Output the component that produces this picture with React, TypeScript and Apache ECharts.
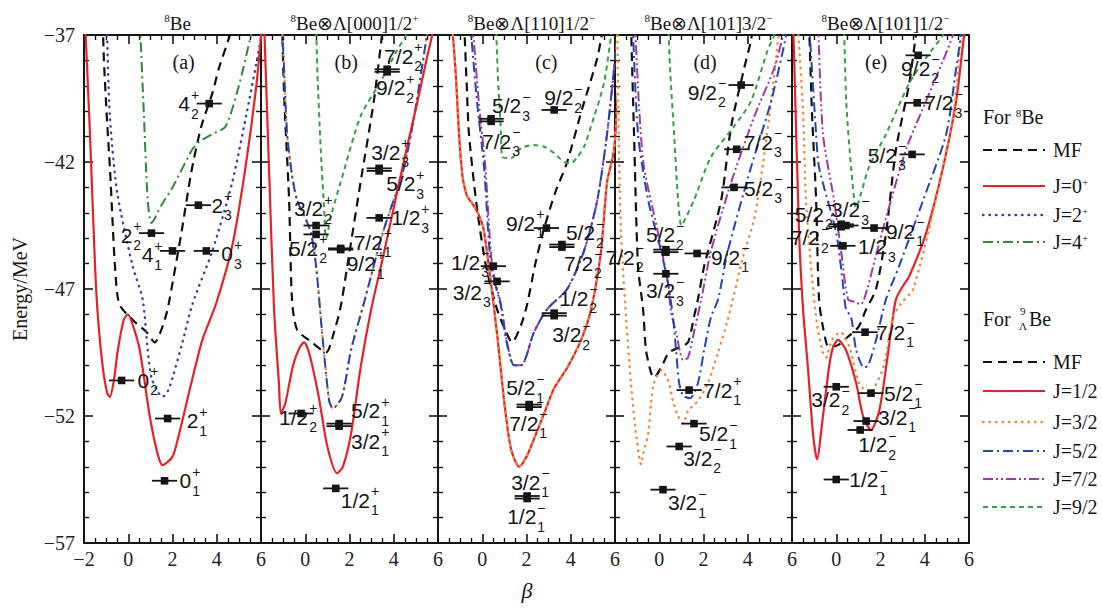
import React, { useEffect, useRef } from "react";
import * as echarts from "echarts";

type Curve = [number, number][];
// [beta, energy (MeV), spin, index, parity]
type Level = [number, number, string, string, string];
// [dx px, dy px, anchor] for a level label, relative to its marker
type Place = [number, number, "l" | "r" | "c"];

const E_MIN = -57;
const E_MAX = -37;
const B_MIN = -2;
const B_MAX = 6;
const HALF_BAR = 0.57;

const PANEL_TITLES = [
  "{s|8}Be",
  "{s|8}Be⊗Λ[000]1/2{s|+}",
  "{s|8}Be⊗Λ[110]1/2{s|−}",
  "{s|8}Be⊗Λ[101]3/2{s|−}",
  "{s|8}Be⊗Λ[101]1/2{s|−}",
];
const PANEL_TAGS = ["(a)", "(b)", "(c)", "(d)", "(e)"];

// ---------- (a) 8Be ----------
const MF_A: Curve = [[-1.15,-36.5],[-1.1,-38],[-0.95,-40.5],[-0.83,-42.2],[-0.7,-44.5],[-0.6,-46.1],[-0.4,-47.6],[0.3,-48.3],[0.83,-48.7],[1.2,-49.1],[1.5,-48.6],[1.75,-47.9],[1.87,-47.4],[2.4,-44.8],[2.85,-42.4],[3.3,-40.6],[3.8,-39.3],[4.1,-38.3],[4.6,-37],[4.75,-36.5]];
const J0_A: Curve = [[-1.95,-36.5],[-1.73,-40.9],[-1.5,-46.1],[-1.37,-48.1],[-1.15,-50.1],[-0.95,-51.1],[-0.83,-51.25],[-0.65,-50.6],[-0.47,-49.4],[-0.2,-48.2],[-0.02,-48.0],[0.2,-48.4],[0.52,-49.4],[0.97,-52.0],[1.33,-53.5],[1.55,-53.93],[2.0,-53.6],[2.3,-52.7],[2.85,-50.7],[3.35,-49.0],[3.98,-47.55],[4.7,-45.3],[5.3,-42.2],[5.8,-38.9],[6.05,-36.5]];
const J2_A: Curve = [[-0.98,-36.5],[-0.96,-37],[-0.83,-40.2],[-0.5,-43.2],[0.2,-46.1],[0.65,-47.4],[0.88,-49.4],[1.05,-50.5],[1.3,-51.0],[1.55,-51.25],[1.8,-51.0],[2.0,-50.5],[2.45,-49.1],[2.9,-47.6],[3.8,-45.5],[4.7,-42.8],[5.46,-39.6],[5.9,-37.6],[6.05,-36.8]];
const J4_A: Curve = [[0.52,-36.5],[0.55,-37],[0.7,-40],[0.88,-43.5],[1.05,-44.4],[1.5,-43.7],[2.0,-43.0],[2.9,-41.5],[3.22,-41.2],[3.8,-40.9],[4.4,-40.6],[5.0,-39.0],[5.55,-37],[5.7,-36.5]];
const LEVELS_A: Level[] = [[3.66,-39.7,"4","2","+"],[3.17,-43.7,"2","3","+"],[1.05,-44.8,"2","2","+"],[2.0,-45.5,"4","1","+"],[3.53,-45.5,"0","3","+"],[-0.3,-50.6,"0","2","+"],[1.78,-52.1,"2","1","+"],[1.64,-54.55,"0","1","+"]];
const PLACE_A: Place[] = [[-10,0,"r"],[13,0,"l"],[-10,2,"r"],[-10,4,"r"],[15,3,"l"],[16,0,"l"],[19,2,"l"],[15,0,"l"]];

// ---------- (b) 8Be x Lambda[000]1/2+ ----------
const MF_B: Curve = [[-1.05,-36.5],[-0.95,-39.5],[-0.73,-43.5],[-0.6,-47.4],[-0.37,-48.6],[0.3,-49.1],[0.94,-49.5],[1.3,-48.7],[1.6,-47.7],[1.9,-46.1],[2.5,-42.8],[3.1,-39.6],[3.47,-37],[3.55,-36.5]];
const J12_B: Curve = [[-1.86,-36.5],[-1.64,-42.2],[-1.41,-47.8],[-1.19,-50.7],[-1.1,-51.9],[-0.9,-51.5],[-0.55,-50.0],[-0.25,-49.3],[-0.05,-49.1],[0.2,-49.6],[0.6,-51.2],[1.0,-53.2],[1.44,-54.25],[1.7,-54.0],[2.07,-52.7],[2.5,-50.1],[2.98,-47.8],[3.5,-45.8],[4.0,-43.8],[4.5,-41.8],[5.0,-39.9],[5.5,-37.9],[5.74,-37],[5.85,-36.5]];
const J52_B: Curve = [[-1.05,-36.5],[-0.95,-38.5],[-0.82,-40.9],[-0.6,-42.5],[-0.37,-43.5],[0.05,-44.3],[0.26,-44.8],[0.49,-46.1],[0.76,-48.7],[1.08,-51.4],[1.25,-51.7],[1.66,-51.25],[2.07,-49.4],[2.7,-47.4],[3.5,-44.8],[4.47,-42.2],[5.0,-39.8],[5.5,-37],[5.6,-36.5]];
const J32_B: Curve = [[-1.05,-36.5],[-0.95,-38.5],[-0.82,-40.9],[-0.6,-42.5],[-0.37,-43.5],[0.05,-44.3],[0.26,-44.8],[0.49,-46.1],[0.76,-48.7],[1.08,-51.4],[1.25,-51.7],[1.66,-51.25],[2.07,-49.4],[2.7,-47.4],[3.5,-44.8],[4.47,-42.2],[5.0,-39.8],[5.5,-37],[5.6,-36.5]];
const J92_B: Curve = [[0.49,-36.5],[0.55,-38.5],[0.7,-41.5],[0.85,-43.8],[0.94,-45.0],[1.2,-44.0],[1.6,-42.8],[2.5,-40.2],[3.43,-38.8],[4.15,-37.6],[4.7,-36.8],[4.8,-36.5]];
const LEVELS_B: Level[] = [[3.7,-38.35,"7/2","2","+"],[3.7,-38.45,"9/2","2","+"],[3.34,-42.25,"3/2","3","+"],[3.34,-42.35,"5/2","3","+"],[3.34,-44.2,"1/2","3","+"],[0.49,-44.5,"3/2","2","+"],[0.49,-44.85,"5/2","2","+"],[1.6,-45.4,"7/2","1","+"],[1.6,-45.45,"9/2","1","+"],[-0.19,-51.9,"1/2","2","+"],[1.53,-52.3,"5/2","1","+"],[1.53,-52.4,"3/2","1","+"],[1.38,-54.85,"1/2","1","+"]];
const PLACE_B: Place[] = [[-3,-13,"l"],[-11,16,"l"],[-8,-16,"l"],[7,13,"l"],[12,0,"l"],[-22,-17,"l"],[-27,14,"l"],[13,-6,"l"],[6,14,"l"],[-22,4,"l"],[12,-13,"l"],[12,15,"l"],[5,12,"l"]];

// ---------- (c) 8Be x Lambda[110]1/2- ----------
const MF_C: Curve = [[-0.82,-36.5],[-0.7,-39],[-0.6,-40.9],[-0.24,-43.8],[0.17,-46.1],[0.67,-47.8],[1.08,-48.7],[1.35,-49.1],[1.76,-48.4],[2.03,-47.6],[2.4,-46.0],[2.8,-44.6],[3.3,-43.2],[3.84,-42.0],[4.5,-39.95],[5.2,-37.9],[5.5,-36.5]];
const J12_C: Curve = [[-1.37,-36.5],[-1.2,-38.5],[-1.05,-40.9],[-0.9,-42.5],[-0.7,-43.3],[-0.4,-43.7],[-0.2,-44.0],[0.05,-44.6],[0.4,-46.8],[0.7,-49.0],[1.0,-51.5],[1.3,-53.3],[1.67,-54.0],[2.0,-53.6],[2.34,-52.9],[2.8,-51.9],[3.25,-50.9],[3.84,-50.1],[4.47,-49.0],[4.92,-47.8],[5.37,-45.5],[5.64,-42.8],[5.96,-41.5],[6.2,-38]];
const J32_C: Curve = [[-1.37,-36.5],[-1.2,-38.5],[-1.05,-40.9],[-0.9,-42.5],[-0.7,-43.3],[-0.4,-43.7],[-0.2,-44.0],[0.05,-44.6],[0.4,-46.8],[0.7,-49.0],[1.0,-51.5],[1.3,-53.3],[1.67,-54.0],[2.0,-53.6],[2.34,-52.9],[2.8,-51.9],[3.25,-50.9],[3.84,-50.1],[4.47,-49.0],[4.92,-47.8],[5.37,-45.5],[5.64,-42.8],[5.96,-41.5],[6.2,-38]];
const J52_C: Curve = [[-0.55,-36.5],[-0.5,-37],[-0.24,-39.6],[0.08,-42.2],[0.4,-46.1],[0.85,-47.7],[1.08,-49.0],[1.44,-50.0],[1.76,-50.0],[2.34,-48.7],[2.93,-47.8],[3.84,-47.0],[4.6,-45.5],[5.2,-43.5],[5.64,-40.9],[5.96,-38.3],[6.1,-37]];
const J72_C: Curve = [[-0.45,-36.5],[-0.4,-37],[-0.16,-39.6],[0.14,-42.2],[0.45,-46.1],[0.87,-47.7],[1.1,-49.0],[1.44,-50.0],[1.76,-50.0],[2.34,-48.7],[2.93,-47.8],[3.84,-47.0],[4.6,-45.5],[5.2,-43.5],[5.64,-40.9],[5.96,-38.3],[6.1,-37]];
const J92_C: Curve = [[0.62,-36.5],[0.7,-38.5],[0.85,-40.9],[0.9,-41.8],[1.3,-41.85],[1.76,-41.45],[2.34,-41.33],[2.8,-41.4],[3.25,-41.65],[3.7,-42.0],[4.0,-42.05],[4.3,-41.8],[4.6,-41.4],[5.06,-40.2],[5.5,-38.9],[5.83,-37],[5.9,-36.5]];
const LEVELS_C: Level[] = [[0.4,-40.3,"5/2","3","−"],[0.4,-40.4,"7/2","3","−"],[3.25,-39.95,"9/2","2","−"],[2.9,-44.6,"9/2","1","+"],[3.6,-45.25,"5/2","2","−"],[3.6,-45.35,"7/2","2","−"],[0.5,-46.1,"1/2","3","−"],[0.67,-46.7,"3/2","3","−"],[3.25,-47.95,"1/2","2","−"],[3.25,-48.05,"3/2","2","−"],[2.12,-51.55,"5/2","1","−"],[2.12,-51.65,"7/2","1","−"],[2.03,-55.15,"3/2","1","−"],[2.03,-55.25,"1/2","1","−"]];
const PLACE_C: Place[] = [[1,-13,"l"],[-9,20,"l"],[-10,-12,"l"],[-2,-5,"r"],[4,-12,"l"],[2,16,"l"],[-4,-4,"r"],[-6,11,"r"],[5,-15,"l"],[-2,19,"l"],[-23,-17,"l"],[-20,16,"l"],[-16,-14,"l"],[-20,18,"l"]];

// ---------- (d) 8Be x Lambda[101]3/2- ----------
const MF_D: Curve = [[-1.28,-36.5],[-1.14,-40.9],[-0.96,-46.1],[-0.73,-47.8],[-0.6,-49.4],[-0.37,-50.3],[-0.24,-50.5],[0.08,-50.1],[0.44,-49.5],[0.9,-49.3],[1.3,-49.1],[1.57,-48.1],[1.75,-47.4],[2.03,-46.1],[2.8,-43.5],[3.25,-40.6],[3.84,-38.3],[4.15,-37.2],[4.25,-36.5]];
const J32_D: Curve = [[-1.9,-36.5],[-1.85,-40],[-1.73,-44.8],[-1.5,-48.1],[-1.28,-50.7],[-1.05,-52.7],[-0.82,-53.9],[-0.73,-53.5],[-0.5,-52.7],[-0.37,-51.5],[-0.24,-50.7],[0.1,-50.2],[0.4,-50.6],[0.62,-51.4],[0.85,-52.0],[1.08,-52.3],[1.3,-51.8],[1.75,-51.4],[2.2,-50.7],[2.66,-49.5],[3.1,-48.2],[3.8,-45.7],[4.3,-44.2],[4.7,-42],[5.06,-39.6],[5.4,-37],[5.5,-36.5]];
const J52_D: Curve = [[-1.2,-36.5],[-0.96,-40.9],[-0.5,-43.5],[0.08,-45.5],[0.4,-46.8],[0.62,-48.1],[0.76,-49.4],[0.9,-50.7],[1.08,-51.2],[1.4,-51.3],[1.75,-50.7],[2.03,-49.4],[2.34,-48.1],[2.66,-47.4],[3.1,-45.5],[4.15,-42.2],[5.06,-39.6],[5.74,-37],[5.8,-36.5]];
const J72_D: Curve = [[-1.1,-36.5],[-0.9,-40],[-0.69,-42.2],[-0.05,-44.8],[0.4,-46.8],[0.53,-47.9],[0.76,-48.7],[1.08,-49.8],[1.3,-49.7],[1.57,-48.7],[1.9,-47.4],[2.34,-45.5],[3.25,-42.8],[4.3,-40.2],[5.2,-38.3],[5.6,-37],[5.7,-36.5]];
const J92_D: Curve = [[0.4,-36.5],[0.5,-38.5],[0.67,-40.9],[0.85,-43.5],[1.0,-44.5],[1.2,-44.2],[1.57,-43.5],[2.34,-41.8],[3.38,-40.6],[4.15,-39.6],[4.9,-37.6],[5.2,-37],[5.3,-36.6]];
const LEVELS_D: Level[] = [[3.7,-38.97,"9/2","2","−"],[3.5,-41.5,"7/2","3","−"],[3.38,-43.0,"5/2","3","−"],[0.3,-45.45,"5/2","2","−"],[0.3,-45.55,"7/2","2","−"],[1.71,-45.6,"9/2","1","−"],[0.3,-46.4,"3/2","3","−"],[1.35,-50.98,"7/2","1","+"],[1.57,-52.3,"5/2","1","−"],[0.9,-53.2,"3/2","2","−"],[0.17,-54.9,"3/2","1","−"]];
const PLACE_D: Place[] = [[-15,7,"r"],[7,-7,"l"],[10,1,"l"],[-20,-15,"l"],[-22,5,"r"],[14,4,"l"],[-20,17,"l"],[14,0,"l"],[5,10,"l"],[4,12,"l"],[5,13,"l"]];

// ---------- (e) 8Be x Lambda[101]1/2- ----------
const MF_E: Curve = [[-1.23,-36.5],[-1.1,-40],[-0.91,-43.5],[-0.78,-47.4],[-0.6,-48.5],[-0.33,-49.3],[0.1,-49.2],[0.5,-48.9],[1.0,-48.5],[1.35,-47.8],[1.8,-47.0],[2.25,-44.8],[2.7,-41.5],[3.3,-38.9],[3.6,-37],[3.7,-36.5]];
const J12_E: Curve = [[-1.95,-36.5],[-1.9,-38],[-1.68,-44.8],[-1.5,-47.8],[-1.28,-50.1],[-1.05,-52.7],[-0.87,-53.7],[-0.6,-52.0],[-0.33,-50.1],[-0.15,-49.3],[0.08,-49.0],[0.44,-49.4],[0.9,-50.7],[1.21,-52.0],[1.57,-52.55],[1.94,-51.8],[2.25,-50.1],[2.5,-48.5],[2.7,-47.4],[3.0,-46.9],[3.3,-46.5],[4.06,-44.8],[4.83,-42.2],[5.42,-39.6],[5.78,-37],[5.9,-36.5]];
const J32_E: Curve = [[-1.75,-36.5],[-1.5,-40],[-1.37,-43.5],[-1.1,-46.5],[-0.85,-48.5],[-0.6,-49.5],[-0.46,-49.7],[-0.2,-49.0],[0.2,-48.7],[0.6,-49.3],[1.03,-50.7],[1.48,-51.1],[2.12,-50.1],[2.57,-48.1],[3.0,-47.5],[3.48,-47.0],[4.5,-43.5],[5.28,-40.2],[5.64,-37],[5.7,-36.5]];
const J52_E: Curve = [[-1.23,-36.5],[-0.91,-40.9],[-0.78,-42.2],[0.0,-44.8],[0.3,-46.8],[0.44,-47.8],[0.67,-48.1],[0.9,-49.4],[1.26,-50.1],[1.45,-50.0],[1.8,-49.0],[2.25,-47.4],[2.84,-46.1],[3.93,-43.5],[4.97,-40.9],[5.42,-38.3],[5.64,-37],[5.7,-36.5]];
const J72_E: Curve = [[-0.82,-36.5],[-0.6,-40.9],[-0.1,-43.5],[0.22,-45.5],[0.53,-47.4],[0.8,-47.5],[1.12,-47.6],[1.4,-47.0],[1.67,-46.1],[2.25,-44.2],[3.16,-41.5],[4.06,-39.6],[4.83,-38.0],[5.28,-37],[5.4,-36.5]];
const J92_E: Curve = [[0.35,-36.5],[0.45,-39.6],[0.67,-42.2],[0.9,-43.8],[1.2,-43.0],[1.48,-42.2],[2.25,-40.9],[3.3,-38.9],[4.06,-37.9],[4.83,-37],[4.9,-36.8]];
const LEVELS_E: Level[] = [[3.7,-37.8,"9/2","2","−"],[3.66,-39.67,"7/2","3","−"],[3.43,-41.7,"5/2","3","−"],[0.22,-44.45,"5/2","2","−"],[0.22,-44.55,"7/2","2","−"],[0.44,-44.5,"3/2","3","−"],[1.71,-44.6,"9/2","1","−"],[0.3,-45.3,"1/2","3","−"],[1.3,-48.7,"7/2","1","−"],[0.0,-50.85,"3/2","2","−"],[1.57,-51.1,"5/2","1","−"],[1.35,-52.2,"3/2","1","−"],[1.08,-52.55,"1/2","2","−"],[0.0,-54.5,"1/2","1","−"]];
const PLACE_E: Place[] = [[-17,13,"l"],[7,0,"l"],[-6,1,"r"],[-8,-10,"r"],[-12,11,"r"],[-15,-16,"l"],[12,3,"l"],[15,1,"l"],[11,0,"l"],[-25,13,"l"],[13,0,"l"],[12,-4,"l"],[-2,15,"l"],[13,0,"l"]];

// ---------- styling ----------
const SERIF = '"Liberation Serif", "Times New Roman", serif';
const SANS = '"Liberation Sans", Arial, sans-serif';
const INK = "#151515";

type StyleKey = "MF" | "J0" | "J2" | "J4" | "J12" | "J32" | "J52" | "J72" | "J92";
const LINE_STYLES: Record<StyleKey, { color: string; width: number; type: number[] | "solid"; cap?: string }> = {
  MF: { color: "#111111", width: 2.2, type: [9, 6] },
  J0: { color: "#e3232a", width: 2.2, type: "solid" },
  J2: { color: "#34449e", width: 2.4, type: [0.5, 6], cap: "round" },
  J4: { color: "#2f8a3a", width: 2, type: [10, 4, 2, 4] },
  J12: { color: "#e3232a", width: 2.2, type: "solid" },
  J32: { color: "#f08a3a", width: 2.4, type: [0.5, 6], cap: "round" },
  J52: { color: "#2346b0", width: 2, type: [10, 4, 2, 4] },
  J72: { color: "#a23aa6", width: 2, type: [10, 3, 2, 3, 2, 3] },
  J92: { color: "#33a046", width: 2, type: [5, 4] },
};

const PANEL_CURVES: [StyleKey, Curve][][] = [
  [["MF", MF_A], ["J2", J2_A], ["J4", J4_A], ["J0", J0_A]],
  [["MF", MF_B], ["J32", J32_B], ["J52", J52_B], ["J92", J92_B], ["J12", J12_B]],
  [["MF", MF_C], ["J12", J12_C], ["J32", J32_C], ["J72", J72_C], ["J52", J52_C], ["J92", J92_C]],
  [["MF", MF_D], ["J32", J32_D], ["J72", J72_D], ["J52", J52_D], ["J92", J92_D]],
  [["MF", MF_E], ["J12", J12_E], ["J32", J32_E], ["J72", J72_E], ["J52", J52_E], ["J92", J92_E]],
];
const PANEL_LEVELS: Level[][] = [LEVELS_A, LEVELS_B, LEVELS_C, LEVELS_D, LEVELS_E];
const PANEL_PLACES: Place[][] = [PLACE_A, PLACE_B, PLACE_C, PLACE_D, PLACE_E];

const LEGEND_8BE: [StyleKey, string][] = [["MF", "MF"], ["J0", "J=0{s|+}"], ["J2", "J=2{s|+}"], ["J4", "J=4{s|+}"]];
const LEGEND_9BE: [StyleKey, string][] = [["MF", "MF"], ["J12", "J=1/2"], ["J32", "J=3/2"], ["J52", "J=5/2"], ["J72", "J=7/2"], ["J92", "J=9/2"]];

// ---------- geometry ----------
const GRID_LEFT = 84;
const GRID_W = 177;
const GRID_TOP = 35;
const GRID_H = 508;
const MAIN_FS = 21;
const SUB_FS = 14;

const measureCtx: CanvasRenderingContext2D | null =
  typeof document !== "undefined" ? document.createElement("canvas").getContext("2d") : null;
function textWidth(s: string, size: number, family: string): number {
  if (!measureCtx) return s.length * size * 0.55;
  measureCtx.font = `${size}px ${family}`;
  return measureCtx.measureText(s).width;
}

function levelLabel(x: number, y: number, anchor: string, lv: Level) {
  const [, , spin, idx, par] = lv;
  const mw = textWidth(spin, MAIN_FS, SANS);
  const sw = Math.max(textWidth(idx, SUB_FS, SANS), textWidth(par, SUB_FS, SANS));
  const tot = mw + sw + 1;
  const x0 = anchor === "l" ? x : anchor === "r" ? x - tot : x - tot / 2;
  const base = { fill: INK, fontFamily: SANS, align: "left", verticalAlign: "middle", textAlign: "left", textVerticalAlign: "middle" };
  return [
    { type: "text", x: x0, y, style: { ...base, text: spin, fontSize: MAIN_FS } },
    { type: "text", x: x0 + mw + 1, y: y - 9, style: { ...base, text: par, fontSize: SUB_FS } },
    { type: "text", x: x0 + mw + 1, y: y + 10, style: { ...base, text: idx, fontSize: SUB_FS } },
  ];
}

const axisLineStyle = { color: INK, width: 2 };

function buildOption() {
  const grids: any[] = [];
  const xAxes: any[] = [];
  const yAxes: any[] = [];
  const series: any[] = [];
  const titles: any[] = [];
  const graphics: any[] = [];

  for (let i = 0; i < 5; i++) {
    const left = GRID_LEFT + GRID_W * i;
    grids.push({ left, top: GRID_TOP, width: GRID_W, height: GRID_H });
    const xBase = {
      gridIndex: i, type: "value", min: B_MIN, max: B_MAX, interval: 2,
      axisLine: { show: true, onZero: false, lineStyle: axisLineStyle },
      axisTick: { show: true, inside: true, length: 9, lineStyle: { color: INK, width: 1.6 } },
      minorTick: { show: true, splitNumber: 4, length: 5, lineStyle: { color: INK, width: 1.4 } },
      splitLine: { show: false },
    };
    xAxes.push({
      ...xBase, position: "bottom",
      axisLabel: {
        show: true, showMinLabel: i === 0, margin: 6, color: "#222",
        fontFamily: SERIF, fontSize: 20,
        formatter: (v: number) => String(v).replace("-", "−"),
      },
    });
    xAxes.push({ ...xBase, position: "top", axisLabel: { show: false } });
    const yBase = {
      gridIndex: i, type: "value", min: 0, max: E_MAX - E_MIN, interval: 5,
      axisLine: { show: true, onZero: false, lineStyle: axisLineStyle },
      axisTick: { show: true, inside: true, length: 9, lineStyle: { color: INK, width: 1.6 } },
      minorTick: { show: true, splitNumber: 5, length: 5, lineStyle: { color: INK, width: 1.4 } },
      splitLine: { show: false },
    };
    yAxes.push({
      ...yBase, position: "left",
      axisLabel: {
        show: i === 0, margin: 9, color: "#222", fontFamily: SERIF, fontSize: 20,
        formatter: (v: number) => String(v + E_MIN).replace("-", "−"),
      },
    });
    yAxes.push({ ...yBase, position: "right", axisLabel: { show: false } });

    for (const [key, curve] of PANEL_CURVES[i]) {
      const st = LINE_STYLES[key];
      series.push({
        type: "line", xAxisIndex: 2 * i, yAxisIndex: 2 * i,
        data: curve.map(([b, e]) => [b, e - E_MIN]),
        showSymbol: false, symbol: "none", smooth: 0.25,
        clip: true, silent: true,
        lineStyle: { color: st.color, width: st.width, type: st.type, cap: st.cap || "butt", join: "round" },
      });
    }

    const levels = PANEL_LEVELS[i];
    const places = PANEL_PLACES[i];
    series.push({
      type: "custom", xAxisIndex: 2 * i, yAxisIndex: 2 * i, clip: false, z: 10, silent: true,
      data: levels.map(([b, e]) => [b, e - E_MIN, HALF_BAR]),
      renderItem: (params: any, api: any) => {
        const k = params.dataIndex;
        const b = api.value(0), y = api.value(1), d = api.value(2);
        const c = api.coord([b, y]);
        const l = api.coord([b - d, y]);
        const r = api.coord([b + d, y]);
        const [dx, dy, anchor] = places[k];
        return {
          type: "group",
          children: [
            { type: "line", shape: { x1: l[0], y1: l[1], x2: r[0], y2: r[1] }, style: { stroke: INK, lineWidth: 1.8 } },
            { type: "rect", shape: { x: c[0] - 3.8, y: c[1] - 3.8, width: 7.6, height: 7.6 }, style: { fill: INK } },
            ...levelLabel(c[0] + dx, c[1] + dy, anchor, levels[k]),
          ],
        };
      },
    });

    titles.push({
      text: PANEL_TITLES[i], left: left + GRID_W / 2, top: 7, textAlign: "center",
      textStyle: {
        fontFamily: SERIF, fontSize: 19, fontWeight: "normal", color: INK, lineHeight: 22,
        rich: { s: { fontFamily: SERIF, fontSize: 11, color: INK, verticalAlign: "top", lineHeight: 11 } },
      },
    });
  }

  // panel tags
  const tagX = [2.5, 1.85, 2.9, 2.07, 1.8];
  PANEL_TAGS.forEach((t, i) => {
    graphics.push({
      type: "text", x: GRID_LEFT + GRID_W * i + ((tagX[i] - B_MIN) / (B_MAX - B_MIN)) * GRID_W, y: 62,
      style: { text: t, fontFamily: SERIF, fontSize: 20, fill: INK, align: "center", verticalAlign: "middle", textAlign: "center", textVerticalAlign: "middle" },
    });
  });

  // axis names
  graphics.push({
    type: "text", x: 20, y: 289, rotation: Math.PI / 2,
    style: { text: "Energy/MeV", fontFamily: SERIF, fontSize: 20, fill: INK, align: "center", verticalAlign: "middle", textAlign: "center", textVerticalAlign: "middle" },
  });
  graphics.push({
    type: "text", x: 527, y: 590,
    style: { text: "β", fontFamily: SERIF, fontStyle: "italic", fontSize: 22, fill: INK, align: "center", verticalAlign: "middle", textAlign: "center", textVerticalAlign: "middle" },
  });

  // legend blocks
  const LX0 = 983, LX1 = 1045, TX = 1053;
  const txtStyle = (text: string) => ({
    text, fontFamily: SERIF, fontSize: 20, fill: INK, align: "left", verticalAlign: "middle", textAlign: "left", textVerticalAlign: "middle",
    rich: { s: { fontFamily: SERIF, fontSize: 11, fill: INK, color: INK, verticalAlign: "top", lineHeight: 11 } },
  });
  graphics.push({ type: "text", x: LX0, y: 117, style: txtStyle("For {s|8}Be") });
  const y8 = [150, 186, 215, 242];
  LEGEND_8BE.forEach(([key, label], k) => {
    const st = LINE_STYLES[key];
    graphics.push({
      type: "line", shape: { x1: LX0, y1: y8[k], x2: LX1, y2: y8[k] },
      style: { stroke: st.color, lineWidth: st.width, lineDash: st.type === "solid" ? null : st.type, lineCap: st.cap || "butt" },
    });
    graphics.push({ type: "text", x: TX, y: y8[k], style: txtStyle(label) });
  });
  // "For 9_Lambda Be" header
  graphics.push({ type: "text", x: LX0, y: 319, style: txtStyle("For") });
  graphics.push({ type: "text", x: 1020, y: 311, style: { text: "9", fontFamily: SERIF, fontSize: 11, fill: INK, align: "left", verticalAlign: "middle", textAlign: "left", textVerticalAlign: "middle" } });
  graphics.push({ type: "text", x: 1019, y: 326, style: { text: "Λ", fontFamily: SERIF, fontSize: 11, fill: INK, align: "left", verticalAlign: "middle", textAlign: "left", textVerticalAlign: "middle" } });
  graphics.push({ type: "text", x: 1029, y: 319, style: txtStyle("Be") });
  const y9 = [362, 391, 422, 451, 479, 507];
  LEGEND_9BE.forEach(([key, label], k) => {
    const st = LINE_STYLES[key];
    graphics.push({
      type: "line", shape: { x1: LX0, y1: y9[k], x2: LX1, y2: y9[k] },
      style: { stroke: st.color, lineWidth: st.width, lineDash: st.type === "solid" ? null : st.type, lineCap: st.cap || "butt" },
    });
    graphics.push({ type: "text", x: TX, y: y9[k], style: txtStyle(label) });
  });

  return {
    animation: false,
    backgroundColor: "#ffffff",
    title: titles,
    grid: grids,
    xAxis: xAxes,
    yAxis: yAxes,
    series,
    graphic: graphics,
  };
}

export default function App() {
  const ref = useRef<HTMLDivElement | null>(null);
  useEffect(() => {
    if (!ref.current) return;
    const chart = echarts.init(ref.current, undefined, { renderer: "svg" });
    chart.setOption(buildOption() as any);
    return () => chart.dispose();
  }, []);
  return (
    <div
      ref={ref}
      style={{ position: "absolute", left: 0, top: 0, width: 1103, height: 608, background: "#fff" }}
    />
  );
}
